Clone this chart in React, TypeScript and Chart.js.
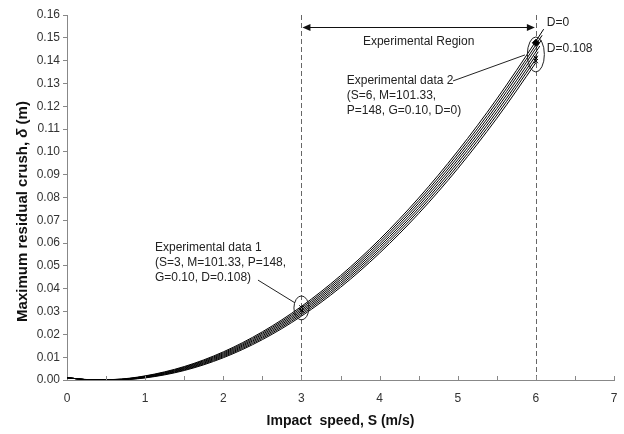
import { useEffect, useRef } from "react";
import { Chart, registerables } from "chart.js";

Chart.register(...registerables);

// Impact speed samples (m/s), shared by all curves; each curve adds its own end point
const speeds = [0, 0.3, 0.6, 1, 1.5, 2, 2.5, 3, 3.5, 4, 4.5, 5, 5.5, 6];
const endSpeeds = [6.1, 6.08, 6.07, 6.05, 6.03, 6.02, 6.01];
const dampingValues = [0, 0.018, 0.036, 0.054, 0.072, 0.09, 0.108];

// Maximum residual crush (m) for each D (last value belongs to the end speed)
const crushD0000 = [0.001, 0.0001, 0.00023, 0.00181, 0.0059, 0.01233, 0.02112, 0.03226, 0.04575, 0.06159, 0.07978, 0.10032, 0.12321, 0.1485, 0.1538];
const crushD0018 = [0.001, 0.0001, 0.00019, 0.00166, 0.00561, 0.0119, 0.02055, 0.03155, 0.0449, 0.0606, 0.07864, 0.09904, 0.12179, 0.1469, 0.1511];
const crushD0036 = [0.001, 0.0001, 0.00015, 0.00151, 0.00532, 0.01147, 0.01998, 0.03083, 0.04404, 0.0596, 0.07751, 0.09776, 0.12037, 0.1454, 0.149];
const crushD0054 = [0.001, 0.0001, 0.00012, 0.00136, 0.00503, 0.01104, 0.01941, 0.03012, 0.04319, 0.05861, 0.07637, 0.09649, 0.11896, 0.1438, 0.1464];
const crushD0072 = [0.001, 0.0001, 0.00008, 0.00121, 0.00473, 0.01061, 0.01883, 0.02941, 0.04233, 0.05761, 0.07523, 0.09521, 0.11754, 0.1423, 0.1439];
const crushD0090 = [0.001, 0.0001, 0.00004, 0.00106, 0.00444, 0.01018, 0.01826, 0.02869, 0.04148, 0.05662, 0.0741, 0.09393, 0.11612, 0.1407, 0.1417];
const crushD0108 = [0.001, 0.0001, 0.00001, 0.00091, 0.00415, 0.00975, 0.01769, 0.02798, 0.04062, 0.05562, 0.07296, 0.09265, 0.1147, 0.1391, 0.1396];
const crushCurves = [crushD0000, crushD0018, crushD0036, crushD0054, crushD0072, crushD0090, crushD0108];

// Experimental points
const expt1Speeds = [3, 3];
const expt1Crush = [0.0305, 0.0318];
const expt2DiamondSpeeds = [6];
const expt2DiamondCrush = [0.1478];
const expt2CrossSpeeds = [6, 6];
const expt2CrossCrush = [0.1398, 0.1412];

// Region bounds
const regionStart = 3;
const regionEnd = 6;
const regionArrowCrush = 0.1548;

const expt1Text = ["Experimental data 1", "(S=3, M=101.33, P=148,", "G=0.10, D=0.108)"];
const expt2Text = ["Experimental data 2", "(S=6, M=101.33,", "P=148, G=0.10, D=0)"];
const yTitleParts = ["Maximum residual crush, ", "δ", " (m)"];

const FONT = "Arial, 'Liberation Sans', sans-serif";

const annotationPlugin = {
  id: "annotations",
  beforeDatasetsDraw(chart: any) {
    const { ctx, chartArea, scales } = chart;
    const x = scales.x;
    ctx.save();
    ctx.strokeStyle = "#666";
    ctx.lineWidth = 1;
    ctx.setLineDash([5, 3]);
    for (const s of [regionStart, regionEnd]) {
      const px = Math.round(x.getPixelForValue(s)) + 0.5;
      ctx.beginPath();
      ctx.moveTo(px, chartArea.top);
      ctx.lineTo(px, chartArea.bottom);
      ctx.stroke();
    }
    ctx.restore();
  },
  afterDatasetsDraw(chart: any) {
    const { ctx, chartArea, scales } = chart;
    const x = scales.x;
    const y = scales.y;
    ctx.save();
    // inside x tick marks
    ctx.strokeStyle = "#888";
    ctx.lineWidth = 1;
    for (let v = 0.5; v <= 7.0001; v += 0.5) {
      const px = Math.round(x.getPixelForValue(v)) + 0.5;
      ctx.beginPath();
      ctx.moveTo(px, chartArea.bottom);
      ctx.lineTo(px, chartArea.bottom - 4);
      ctx.stroke();
    }
    // region arrow
    const ax1 = x.getPixelForValue(regionStart) + 1;
    const ax2 = x.getPixelForValue(regionEnd) - 1;
    const ay = Math.round(y.getPixelForValue(regionArrowCrush)) + 0.5;
    ctx.strokeStyle = "#111";
    ctx.fillStyle = "#111";
    ctx.beginPath();
    ctx.moveTo(ax1 + 4, ay);
    ctx.lineTo(ax2 - 4, ay);
    ctx.stroke();
    ctx.beginPath();
    ctx.moveTo(ax1, ay);
    ctx.lineTo(ax1 + 8, ay - 3.5);
    ctx.lineTo(ax1 + 8, ay + 3.5);
    ctx.closePath();
    ctx.fill();
    ctx.beginPath();
    ctx.moveTo(ax2, ay);
    ctx.lineTo(ax2 - 8, ay - 3.5);
    ctx.lineTo(ax2 - 8, ay + 3.5);
    ctx.closePath();
    ctx.fill();

    // texts
    ctx.fillStyle = "#222";
    ctx.font = `12px ${FONT}`;
    ctx.textBaseline = "middle";
    ctx.textAlign = "center";
    ctx.fillText("Experimental Region", x.getPixelForValue(4.5), y.getPixelForValue(0.1482));
    ctx.textAlign = "left";
    ctx.fillText("D=0", x.getPixelForValue(6.14), y.getPixelForValue(0.1565));
    ctx.fillText("D=0.108", x.getPixelForValue(6.14), y.getPixelForValue(0.1451));
    const t2x = x.getPixelForValue(3.58);
    const t2y = y.getPixelForValue(0.1311);
    expt2Text.forEach((t, i) => ctx.fillText(t, t2x, t2y + i * 15));
    const t1x = x.getPixelForValue(1.126);
    const t1y = y.getPixelForValue(0.0579);
    expt1Text.forEach((t, i) => ctx.fillText(t, t1x, t1y + i * 15));

    // leader lines
    ctx.strokeStyle = "#222";
    ctx.lineWidth = 1;
    ctx.beginPath();
    ctx.moveTo(x.getPixelForValue(4.94), y.getPixelForValue(0.1311));
    ctx.lineTo(x.getPixelForValue(5.86), y.getPixelForValue(0.1425));
    ctx.stroke();
    ctx.beginPath();
    ctx.moveTo(x.getPixelForValue(2.444), y.getPixelForValue(0.0438));
    ctx.lineTo(x.getPixelForValue(2.918), y.getPixelForValue(0.0338));
    ctx.stroke();

    // ellipses
    ctx.beginPath();
    ctx.ellipse(x.getPixelForValue(3), y.getPixelForValue(0.0316), 7.5, 12, 0, 0, Math.PI * 2);
    ctx.stroke();
    ctx.beginPath();
    ctx.ellipse(x.getPixelForValue(6), y.getPixelForValue(0.1427), 8.5, 17.5, 0, 0, Math.PI * 2);
    ctx.stroke();
    ctx.restore();
  },
  afterDraw(chart: any) {
    const { ctx, chartArea } = chart;
    ctx.save();
    const fonts = [`bold 15px ${FONT}`, `italic bold 15px ${FONT}`, `bold 15px ${FONT}`];
    const widths = yTitleParts.map((t, i) => {
      ctx.font = fonts[i];
      return ctx.measureText(t).width;
    });
    const total = widths.reduce((a, b) => a + b, 0);
    const cy = (chartArea.top + chartArea.bottom) / 2 + 14;
    ctx.translate(23, cy);
    ctx.rotate(-Math.PI / 2);
    ctx.fillStyle = "#111";
    ctx.textBaseline = "middle";
    ctx.textAlign = "left";
    let pos = -total / 2;
    yTitleParts.forEach((t, i) => {
      ctx.font = fonts[i];
      ctx.fillText(t, pos, 0);
      pos += widths[i];
    });
    ctx.restore();
  },
};

export default function App() {
  const ref = useRef<HTMLCanvasElement | null>(null);
  useEffect(() => {
    document.body.style.margin = "0";
    if (!ref.current) return;
    const curveDatasets = crushCurves.map((vals, k) => ({
      label: `D=${dampingValues[k]}`,
      data: [...speeds, endSpeeds[k]].map((s, i) => ({ x: s, y: vals[i] })),
      showLine: true,
      borderColor: "#000",
      borderWidth: 1,
      pointRadius: 0,
      cubicInterpolationMode: "monotone" as const,
      order: 2,
    }));
    const chart = new Chart(ref.current, {
      type: "scatter",
      data: {
        datasets: [
          ...curveDatasets,
          {
            label: "Experimental data 1",
            data: expt1Speeds.map((s, i) => ({ x: s, y: expt1Crush[i] })),
            pointStyle: "crossRot",
            pointRadius: 3,
            borderColor: "#000",
            borderWidth: 1,
            order: 1,
          },
          {
            label: "Experimental data 2 (D=0)",
            data: expt2DiamondSpeeds.map((s, i) => ({ x: s, y: expt2DiamondCrush[i] })),
            pointStyle: "rectRot",
            pointRadius: 3.5,
            backgroundColor: "#000",
            borderColor: "#000",
            order: 1,
          },
          {
            label: "Experimental data 2",
            data: expt2CrossSpeeds.map((s, i) => ({ x: s, y: expt2CrossCrush[i] })),
            pointStyle: "crossRot",
            pointRadius: 3,
            borderColor: "#000",
            borderWidth: 1,
            order: 1,
          },
        ],
      },
      options: {
        responsive: false,
        animation: false,
        layout: { padding: { left: 0, top: 15, right: 10, bottom: 0 } },
        plugins: { legend: { display: false }, tooltip: { enabled: false } },
        scales: {
          x: {
            type: "linear",
            min: 0,
            max: 7,
            afterFit: (s: any) => {
              s.height = 54;
            },
            ticks: {
              stepSize: 0.5,
              autoSkip: false,
              maxRotation: 0,
              padding: 3,
              color: "#333",
              font: { family: FONT, size: 12 },
              callback: (v: any) => (Number(v) % 1 === 0 ? String(v) : ""),
            },
            grid: { drawOnChartArea: false, drawTicks: true, tickLength: 8, color: "rgba(0,0,0,0)" },
            border: { color: "#888", width: 1 },
            title: {
              display: true,
              text: "Impact  speed, S (m/s)",
              color: "#111",
              font: { family: FONT, size: 14, weight: "bold" },
              padding: { top: 0, bottom: 4 },
            },
          },
          y: {
            type: "linear",
            min: 0,
            max: 0.16,
            afterFit: (s: any) => {
              s.width = 67;
            },
            ticks: {
              stepSize: 0.01,
              autoSkip: false,
              padding: 3,
              color: "#333",
              font: { family: FONT, size: 12 },
              callback: (v: any) => Number(v).toFixed(2),
            },
            grid: { drawOnChartArea: false, drawTicks: true, tickLength: 4, color: "#888" },
            border: { color: "#888", width: 1 },
            title: { display: false },
          },
        },
      },
      plugins: [annotationPlugin],
    });
    return () => chart.destroy();
  }, []);
  return (
    <div style={{ width: 624, height: 434 }}>
      <canvas ref={ref} width={624} height={434} style={{ display: "block" }} />
    </div>
  );
}
